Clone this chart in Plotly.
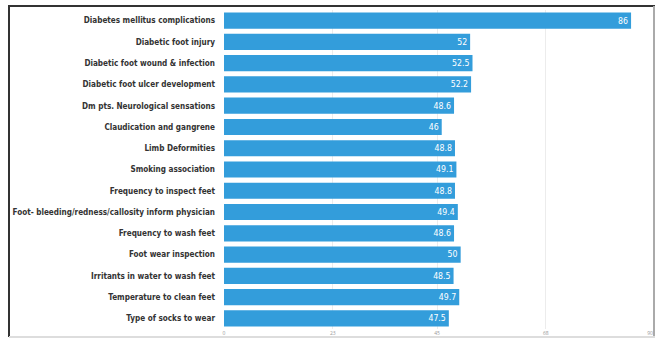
import plotly.graph_objects as go

categories = [
    "Diabetes mellitus complications",
    "Diabetic foot injury",
    "Diabetic foot wound & infection",
    "Diabetic foot ulcer development",
    "Dm pts. Neurological sensations",
    "Claudication and gangrene",
    "Limb Deformities",
    "Smoking association",
    "Frequency to inspect feet",
    "Foot- bleeding/redness/callosity inform physician",
    "Frequency to wash feet",
    "Foot wear inspection",
    "Irritants in water to wash feet",
    "Temperature to clean feet",
    "Type of socks to wear",
]
values = [86, 52, 52.5, 52.2, 48.6, 46, 48.8, 49.1, 48.8, 49.4, 48.6, 50, 48.5, 49.7, 47.5]
value_labels = ["86", "52", "52.5", "52.2", "48.6", "46", "48.8", "49.1", "48.8", "49.4", "48.6", "50", "48.5", "49.7", "47.5"]
tick_vals = [0, 23, 45, 68, 90]
tick_text = ["0", "23", "45", "68", "90"]

W, H = 657, 339
L, R, T, B = 224, 7, 10, 10
pw, ph = W - L - R, H - T - B

def px(x):
    return (x - L) / pw

def py(y):
    return (H - B - y) / ph

FAM = "DejaVu Sans Condensed, Liberation Sans Narrow, Arial Narrow, Liberation Sans"

fig = go.Figure(go.Bar(
    y=categories,
    x=values,
    orientation="h",
    marker=dict(color="#339ddb", line=dict(width=0)),
    text=value_labels,
    textposition="inside",
    insidetextanchor="end",
    textangle=0,
    textfont=dict(color="white", size=12, family=FAM),
    cliponaxis=False,
))

fig.update_layout(
    width=W, height=H,
    margin=dict(l=L, r=R, t=T, b=B, autoexpand=False),
    paper_bgcolor="white",
    plot_bgcolor="white",
    bargap=0.24,
    showlegend=False,
    xaxis=dict(
        range=[0, 90],
        tickvals=tick_vals,
        ticktext=tick_text,
        showgrid=True,
        gridcolor="#ececec",
        gridwidth=1,
        zeroline=False,
        tickfont=dict(size=5, color="#999"),
        ticks="",
        automargin=False,
    ),
    yaxis=dict(
        categoryorder="array",
        categoryarray=categories[::-1],
        tickfont=dict(size=8.1, color="#333", family=FAM, weight="bold"),
        ticks="",
        ticklabelstandoff=8,
        showgrid=False,
        automargin=False,
    ),
    uniformtext=dict(minsize=8, mode="show"),
)

# frame
fig.add_shape(type="line", xref="paper", yref="paper", x0=px(9), x1=px(9), y0=py(6), y1=py(337),
              line=dict(color="#333", width=2))
fig.add_shape(type="line", xref="paper", yref="paper", x0=px(8), x1=px(655), y0=py(6), y1=py(6),
              line=dict(color="#333", width=2))
fig.add_shape(type="line", xref="paper", yref="paper", x0=px(654), x1=px(654), y0=py(6), y1=py(337),
              line=dict(color="#aaa", width=2))
fig.add_shape(type="line", xref="paper", yref="paper", x0=px(9), x1=px(655), y0=py(337), y1=py(337),
              line=dict(color="#ddd", width=2))

fig.write_html("out.html")
